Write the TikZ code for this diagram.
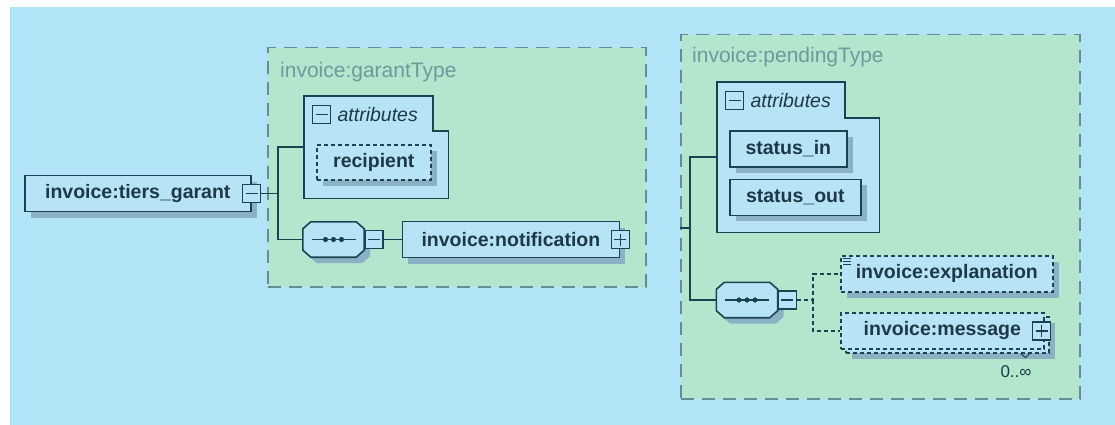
\documentclass[tikz,border=0pt]{standalone}
\usepackage{fontspec}
\setmainfont{Liberation Sans}
\usetikzlibrary{positioning,shadows}
\definecolor{bg}{RGB}{176,228,246}
\definecolor{grn}{RGB}{178,230,205}
\definecolor{elf}{RGB}{182,228,246}
\definecolor{shd}{RGB}{138,178,196}
\definecolor{ln}{RGB}{28,66,82}
\definecolor{txt}{RGB}{30,56,70}
\definecolor{tline}{RGB}{104,140,150}
\definecolor{labc}{RGB}{112,152,158}

\begin{document}
\begin{tikzpicture}[x=1pt,y=-1pt,
  font=\fontsize{19.5}{23}\selectfont,
  typ/.style={draw=tline,line width=1.5pt,dash pattern=on 13pt off 8pt,fill=grn,inner sep=0pt,anchor=north west},
  tlab/.style={text=labc,font=\fontsize{21}{24}\selectfont,anchor=west,inner sep=0pt},
  base/.style={draw=ln,line width=1.6pt,fill=elf,text=txt,font=\fontsize{19.5}{23}\selectfont\bfseries,minimum height=36pt,inner sep=0pt},
  sh/.style={general shadow={fill=shd,shadow xshift=6pt,shadow yshift=-6pt}},
  el/.style={base,sh},
  opt/.style={base,dash pattern=on 4pt off 3pt},
  seq/.style={minimum width=61pt,minimum height=35pt,inner sep=0pt},
  abox/.style={draw=ln,line width=1.6pt,fill=elf},
  ahead/.style={text=txt,font=\fontsize{19.5}{23}\selectfont\itshape,inner sep=0pt},
  sq/.style={draw=ln,line width=1.4pt,fill=elf,minimum size=18pt,inner sep=0pt},
  minus/.style={sq,path picture={\draw[ln,line width=1.4pt] ([xshift=3pt]path picture bounding box.west) -- ([xshift=-3pt]path picture bounding box.east);}},
  plus/.style={sq,path picture={\draw[ln,line width=1.4pt] ([xshift=3pt]path picture bounding box.west) -- ([xshift=-3pt]path picture bounding box.east) ([yshift=3pt]path picture bounding box.south) -- ([yshift=-3pt]path picture bounding box.north);}},
  conn/.style={ln,line width=1.6pt},
  dconn/.style={conn,dash pattern=on 4pt off 3pt}]
\useasboundingbox (0,0) rectangle (1115,425);
\fill[white] (0,0) rectangle (1115,425);
\fill[bg] (10,7) rectangle (1115,425);

\node[typ,minimum width=378pt,minimum height=239pt] (gt) at (267,47) {};
\node[tlab] (gtl) at (280,72) {invoice:garantType};
\node[typ,minimum width=399pt,minimum height=364pt] (pt) at (680,34) {};
\node[tlab] (ptl) at (692,57) {invoice:pendingType};

\node[seq] (gs) at (333.5,239.5) {};
\node[seq] (ps) at (747,300) {};
\foreach \s in {gs,ps} {
  \draw[conn,fill=elf,sh] ([xshift=8pt]\s.north west) -- ([xshift=-8pt]\s.north east)
    -- ([yshift=-7pt]\s.north east) -- ([yshift=7pt]\s.south east) -- ([xshift=-8pt]\s.south east)
    -- ([xshift=8pt]\s.south west) -- ([yshift=7pt]\s.south west) -- ([yshift=-7pt]\s.north west) -- cycle;
  \draw[ln,line width=1.6pt] ([xshift=-22pt]\s.center) -- ([xshift=22pt]\s.center);
  \foreach \d in {-8,0,8}
    \fill[ln] ([xshift=\d pt]\s.center) circle (2.6pt);
}

\node[el,minimum width=226pt,anchor=west] (tg) at (24,193.5) {invoice:tiers\_garant};
\node[minus] (tgm) at (tg.east) {};

\node[minimum width=144pt,minimum height=102pt,inner sep=0pt,anchor=north west] (ga) at (304,96) {};
\draw[abox] (ga.north west) -- ++(129,0) -- ++(0,35) -| (ga.south east) -- (ga.south west) -- cycle;
\node[minus,anchor=west] (gam) at ([xshift=8pt,yshift=-18.5pt]ga.north west) {};
\node[ahead,right=6pt of gam] (gal) {attributes};
\node[opt,sh,minimum width=114pt,minimum height=35pt,anchor=north west] (rc) at (316,144) {recipient};

\node[minus,right=0pt of gs] (gsm) {};
\node[el,minimum width=217pt,right=18pt of gsm] (nt) {invoice:notification};
\node[plus] (ntp) at (nt.east) {};

\coordinate (gj) at (278,193.5);
\draw[conn] (tgm) -- (gj) |- (ga);
\draw[conn] (gj) |- (gs);
\draw[conn] (gsm) -- (nt);

\node[minimum width=162pt,minimum height=150pt,inner sep=0pt,anchor=north west] (pa) at (717,82) {};
\draw[abox] (pa.north west) -- ++(128,0) -- ++(0,36) -| (pa.south east) -- (pa.south west) -- cycle;
\node[minus,anchor=west] (pam) at ([xshift=8pt,yshift=-18.5pt]pa.north west) {};
\node[ahead,right=6pt of pam] (pal) {attributes};
\node[el,minimum width=117pt,anchor=north west] (sin) at (729,130) {status\_in};
\node[el,minimum width=131pt,below=11pt of sin.south west,anchor=north west] (sout) {status\_out};

\node[minus,right=0pt of ps] (psm) {};
\coordinate (pj) at (690,228);
\draw[conn] (pt.west |- pj) -- (pj) |- (pa);
\draw[conn] (pj) |- (ps);

\node[opt,sh,minimum width=212pt,anchor=north west] (ex) at (840,255) {invoice:explanation};
\foreach \k in {3,6,9}
  \draw[ln,line width=1pt] ([xshift=3pt,yshift=-\k pt]ex.north west) -- ++(8,0);
\node[opt,sh,minimum width=203pt,anchor=north west] (msgb) at (845,316) {};
\node[opt,minimum width=203pt,anchor=north west] (msg) at (840,312) {invoice:message};
\node[plus] (msp) at ([xshift=-3pt]msg.east) {};
\draw[ln,line width=1pt] ([xshift=-29pt]msgb.south east) -- ++(5,4) -- ++(5,-5);
\node[text=txt,font=\fontsize{17}{20}\selectfont,inner sep=0pt] (occ) at (1016,372) {0..∞};

\coordinate (sj) at (813,300);
\draw[dconn] (psm) -- (sj) |- (ex);
\draw[dconn] (sj) |- (msg);
\end{tikzpicture}
\end{document}
